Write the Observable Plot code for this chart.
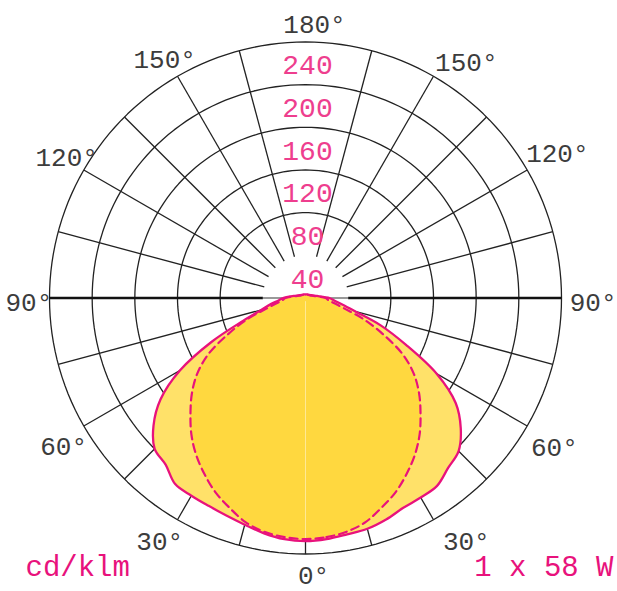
<!DOCTYPE html>
<html><head><meta charset="utf-8">
<script src="https://cdn.jsdelivr.net/npm/d3@7"></script>
<script src="https://cdn.jsdelivr.net/npm/@observablehq/plot@0.6"></script>
<style>html,body{margin:0;padding:0;background:#fff;} #chart svg{display:block;}</style>
</head><body><div id="chart"></div>
<script>
// ---- data (cd/klm) ----
const gammaAngles = [0,5,10,15,20,25,30,35,40,45,50,55,60,65,70,75,80,85,90,100,110,120,135,150,165,180];
// C0 plane (right half, solid)
const c0Values   = [228,227,225,224,221,217,216,215,208,203,190,172,142,104,75,48,35,27,22.5,11,7,5.5,4.2,3.8,3.5,3.3];
// C180 plane (left half, solid)
const c180Values = [228,227,224,220,217,215,214,213,204,200,186,166,136,97,62,43,33,25,21,11,7,5.5,4.2,3.8,3.5,3.3];
// C90 / C270 plane (dashed)
const c90Values  = [226,225,222.5,217.5,209,200.5,190,179,166.5,152.5,139,124,105,80,58,37.5,27,21.5,18.8,10,6.5,5,4,3.5,3.2,3];
const c270Values = c90Values;

const ringValues = [40,80,120,160,200,240];
const ringLabels = ["40","80","120","160","200","240"];
const spokeAngles = [0,15,30,45,60,75,105,120,135,150,165];
const angleTicks = [0,30,60,90,120,150,180];
const angleTickLabels = ["0°","30°","60°","90°","120°","150°","180°"];
const unitLabel = "cd/klm";
const lampLabel = "1 x 58 W";

// ---- geometry helpers ----
const W = 617, H = 591, cx = 305, cy = 297.5;
const k = 256 / 240; // px per cd
const rad = d => d * Math.PI / 180;
const pt = (r, g, side) => ({x: side * r * Math.sin(rad(g)), y: -r * Math.cos(rad(g))});

function outline(right, left) {
  const pts = gammaAngles.map((g, i) => pt(right[i], g, 1));
  for (let i = gammaAngles.length - 2; i >= 1; i--) pts.push(pt(left[i], gammaAngles[i], -1));
  return pts;
}
const solidPts = outline(c0Values, c180Values);
const dashPts = outline(c90Values, c270Values);

const ringPts = [];
for (const v of ringValues.filter(v => v > 40)) {
  for (let a = 0; a <= 360; a += 2) ringPts.push({ring: v, x: v * Math.sin(rad(a)), y: v * Math.cos(rad(a))});
}
const spokes = [];
for (const g of spokeAngles) {
  const sides = g === 0 ? [1] : [1, -1];
  for (const s of sides) {
    const a = pt(40, g, s), b = pt(240, g, s);
    spokes.push({x1: a.x, y1: a.y, x2: b.x, y2: b.y});
  }
}
const horiz = [{x1: -240, x2: -40}, {x1: 40, x2: 240}];

// label placement: polar position plus small pixel nudges (style only)
const nudge = {
  "0,1": [8, -4], "30,1": [20, 0], "30,-1": [-5, 0], "60,1": [5, 9], "60,-1": [2, 8],
  "90,1": [6, 5], "90,-1": [5, 5], "120,1": [8, -4], "120,-1": [5, 0],
  "150,1": [20, 9], "150,-1": [0, 6], "180,1": [9, 8]
};
const angleLabelData = [];
angleTicks.forEach((g, i) => {
  const sides = (g === 0 || g === 180) ? [1] : [1, -1];
  for (const s of sides) {
    const p = pt(264, g, s);
    const n = nudge[g + "," + s] || [0, 0];
    angleLabelData.push({x: p.x, y: p.y, text: angleTickLabels[i], dx: n[0], dy: n[1]});
  }
});
const ringLabelData = ringValues.map((v, i) => ({x: 0, y: v - 22, text: ringLabels[i]}));

const pink = "#E8127C";
const font = "Liberation Mono, DejaVu Sans Mono, monospace";

const angleTextMarks = angleLabelData.map(d =>
  Plot.text([d], {x: "x", y: "y", text: "text", fill: "#3c3c3c", fontSize: 26, fontFamily: font, dx: d.dx, dy: d.dy}));

const chart = Plot.plot({
  width: W, height: H, margin: 0,
  style: {background: "#fff"},
  x: {domain: [-cx / k, (W - cx) / k], range: [0, W], axis: null},
  y: {domain: [-(H - cy) / k, cy / k], range: [H, 0], axis: null},
  marks: [
    Plot.line(ringPts, {x: "x", y: "y", z: "ring", stroke: "#222", strokeWidth: 1.3}),
    Plot.link(spokes, {x1: "x1", y1: "y1", x2: "x2", y2: "y2", stroke: "#222", strokeWidth: 1.3}),
    Plot.link([{}], {x1: -40, x2: 40, y1: 0, y2: 0, stroke: "#999", strokeWidth: 2}),
    Plot.link(horiz, {x1: "x1", x2: "x2", y1: 0, y2: 0, stroke: "#111", strokeWidth: 2.6}),
    Plot.line(solidPts, {x: "x", y: "y", curve: "catmull-rom-closed", fill: "#FFE169", stroke: "none"}),
    Plot.line(dashPts, {x: "x", y: "y", curve: "catmull-rom-closed", fill: "#FFD83F", stroke: "none"}),
    Plot.link([{}], {x1: 0, x2: 0, y1: -3, y2: -c0Values[0] + 1, stroke: "#fff", strokeOpacity: 0.45, strokeWidth: 1}),
    Plot.line(solidPts, {x: "x", y: "y", curve: "catmull-rom-closed", fill: "none", stroke: pink, strokeWidth: 2.3}),
    Plot.line(dashPts, {x: "x", y: "y", curve: "catmull-rom-closed", fill: "none", stroke: pink, strokeWidth: 2.2, strokeDasharray: "8,5"}),
    Plot.text(ringLabelData, {x: "x", y: "y", text: "text", fill: "#EE3E8E", fontSize: 28, fontFamily: font, dx: 2}),
    ...angleTextMarks,
    Plot.text([unitLabel], {frameAnchor: "bottom-left", text: d => d, textAnchor: "start", dx: 25, dy: -16, fill: pink, fontSize: 29, fontFamily: font}),
    Plot.text([lampLabel], {frameAnchor: "bottom-right", text: d => d, textAnchor: "end", dx: -4, dy: -16, fill: pink, fontSize: 29, fontFamily: font})
  ]
});
document.getElementById("chart").appendChild(chart);
</script>
</body></html>
